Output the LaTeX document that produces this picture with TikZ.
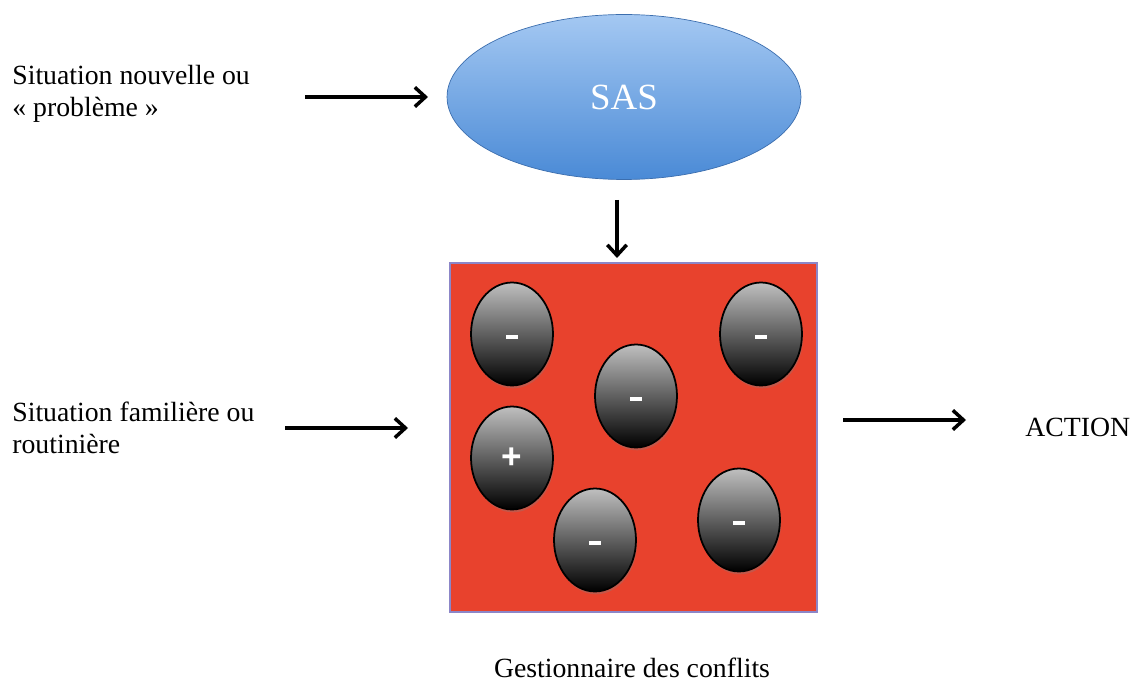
\documentclass[tikz,border=0pt]{standalone}
\usepackage{fontspec}
\setmainfont{Liberation Serif}
\newfontfamily\signfont{Liberation Sans}
\usetikzlibrary{positioning,shapes.geometric,shadows,arrows.meta}
\definecolor{sastop}{HTML}{A4C8F2}
\definecolor{sasbot}{HTML}{4A8AD6}
\definecolor{sasline}{HTML}{3C6EAE}
\definecolor{boxred}{HTML}{E8422D}
\definecolor{boxline}{HTML}{8C86C8}
\newcommand{\minusbar}{\rule[-1.6pt]{6.8pt}{2.4pt}\rule{0pt}{4pt}}

\begin{document}
\begin{tikzpicture}[x=0.02cm,y=-0.02cm,
txt/.style={font=\fontsize{15.8}{18}\selectfont,align=left,anchor=west,inner sep=0pt},
flow/.style={-{Straight Barb[length=6pt,width=11pt,line width=2pt]},line width=2.3pt},
ball/.style={ellipse,draw=black,line width=1pt,minimum width=1.64cm,minimum height=2.06cm,
  top color=gray!50,bottom color=black,
  drop shadow={opacity=0.35,shadow xshift=0.6pt,shadow yshift=-1.6pt},
  text=white,font=\signfont\bfseries\fontsize{20}{20}\selectfont}]
\useasboundingbox (0,0) rectangle (1134,689);

% top row: new situation
\node (sas) [ellipse,draw=sasline,line width=0.4pt,top color=sastop,bottom color=sasbot,
    minimum width=7.08cm,minimum height=3.3cm,inner sep=0pt,
    text=white,font=\fontsize{21}{21}\selectfont] at (624,97) {SAS};
\node (newsit) [txt] at (12,94) {Situation nouvelle ou\\« problème »};
\coordinate (newin) at (305,97);
\coordinate (newend) at (428,97);
\draw[flow] (newin) -- (newend);

% conflict manager
\node (conf) [rectangle,draw=boxline,line width=0.8pt,fill=boxred,
    minimum width=7.34cm,minimum height=6.98cm,inner sep=0pt] at (633.5,437.5) {};
\coordinate (sasout) at (617,200);
\coordinate (confin) at (617,258);
\draw[flow] (sasout) -- (confin);
\node (ba) [ball] at (512,334) {\minusbar};
\node (bb) [ball] at (761,334) {\minusbar};
\node (bc) [ball] at (636,396) {\minusbar};
\node (bd) [ball] at (512,458) {+};
\node (be) [ball] at (595,540) {\minusbar};
\node (bf) [ball] at (739,520) {\minusbar};
\node (confname) [font=\fontsize{15.8}{18}\selectfont] at (632,668) {Gestionnaire des conflits};

% familiar situation and action
\node (famsit) [txt] at (12,428) {Situation familière ou\\routinière};
\coordinate (famin) at (285,428);
\coordinate (famend) at (408,428);
\draw[flow] (famin) -- (famend);
\node (action) [txt] at (1025,427) {ACTION};
\coordinate (confout) at (843,420);
\coordinate (actin) at (966,420);
\draw[flow] (confout) -- (actin);
\end{tikzpicture}
\end{document}
